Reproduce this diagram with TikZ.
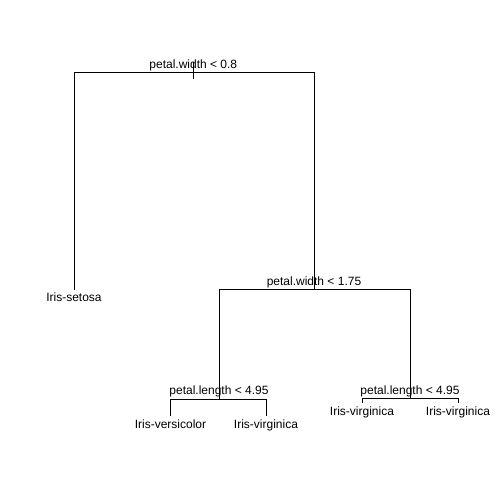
\documentclass[tikz,border=0pt]{standalone}
\usepackage{fontspec}
\setmainfont{Liberation Sans}
\usetikzlibrary{positioning}

\begin{document}
\begin{tikzpicture}[x=1pt,y=-1pt,
  edge/.style={line width=0.75pt},
  split/.style={anchor=base,inner sep=0pt,font=\fontsize{12}{14}\selectfont},
  leaf/.style={anchor=base,inner sep=0pt,font=\fontsize{12}{14}\selectfont}]
  \fill[white] (0,0) rectangle (504,504);

  % split points and leaf ends
  \coordinate (root) at (193.3,72.5);
  \coordinate (roottop) at (193.3,62);
  \coordinate (rootbot) at (193.3,79);
  \coordinate (pw) at (314,289.5);
  \coordinate (plA) at (219,399);
  \coordinate (plB) at (410,398.5);
  \coordinate (setosa) at (74,289.5);
  \coordinate (versi) at (170.5,416);
  \coordinate (virgA) at (266,416);
  \coordinate (virgB) at (362,403);
  \coordinate (virgC) at (458,403);

  % branches
  \draw[edge] (roottop) -- (rootbot);
  \draw[edge] (root) -| (setosa);
  \draw[edge] (root) -| (pw);
  \draw[edge] (pw) -| (plA);
  \draw[edge] (pw) -| (plB);
  \draw[edge] (plA) -| (versi);
  \draw[edge] (plA) -| (virgA);
  \draw[edge] (plB) -| (virgB);
  \draw[edge] (plB) -| (virgC);

  % split labels
  \node[split] (lroot) at ([yshift=4.5pt]root) {petal.width < 0.8};
  \node[split] (lpw) at ([yshift=4.5pt]pw) {petal.width < 1.75};
  \node[split] (lplA) at ([yshift=4.5pt]plA) {petal.length < 4.95};
  \node[split] (lplB) at ([yshift=4.5pt]plB) {petal.length < 4.95};

  % leaf labels
  \foreach \n/\t in {setosa/Iris-setosa, versi/Iris-versicolor, virgA/Iris-virginica,
                     virgB/Iris-virginica, virgC/Iris-virginica} {
    \node[leaf] (l\n) at ([yshift=-12pt]\n) {\t};
  }
\end{tikzpicture}
\end{document}
